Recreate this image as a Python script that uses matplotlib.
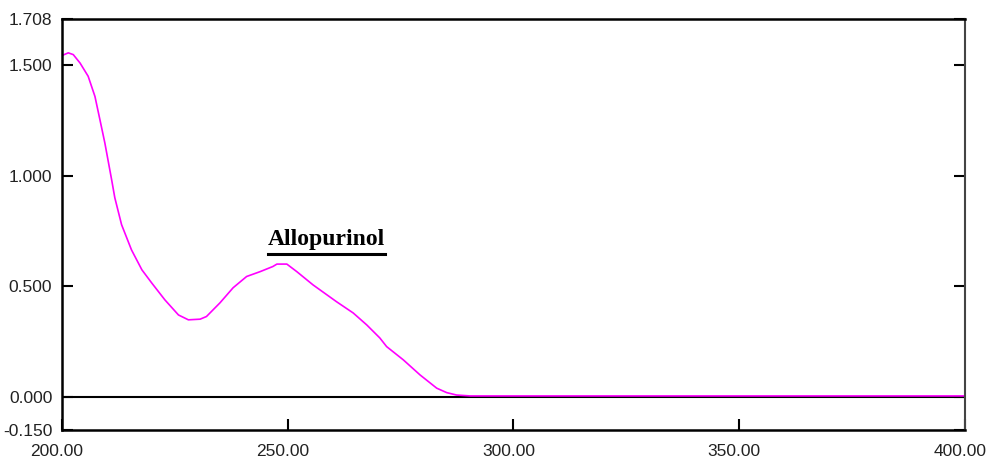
import numpy as np
import matplotlib.pyplot as plt
import matplotlib.transforms as mtransforms

# wavelength (nm) and absorbance
wavelength = [199.9, 201.4, 202.5, 204.0, 205.8, 207.3, 208.4, 209.5, 211.0, 211.7,
              213.2, 215.4, 217.7, 219.9, 222.8, 225.8, 228.0, 230.6, 232.0, 235.0,
              237.9, 240.9, 243.9, 246.7, 247.6, 249.8, 252.0, 255.6, 260.8, 264.5,
              267.5, 270.4, 271.9, 275.6, 279.3, 283.0, 285.2, 287.4, 290.4, 300.0,
              350.0, 400.0]
absorbance = [1.542, 1.555, 1.547, 1.509, 1.449, 1.358, 1.253, 1.147, 0.981, 0.900,
              0.778, 0.664, 0.574, 0.514, 0.438, 0.370, 0.348, 0.351, 0.363, 0.425,
              0.493, 0.544, 0.566, 0.589, 0.600, 0.600, 0.566, 0.506, 0.430, 0.379,
              0.325, 0.266, 0.227, 0.167, 0.099, 0.039, 0.019, 0.008, 0.004, 0.004,
              0.004, 0.004]

x_ticks = [200, 250, 300, 350, 400]
y_ticks = [-0.150, 0.000, 0.500, 1.000, 1.500, 1.708]
title = "Allopurinol"

fig = plt.figure(figsize=(9.87, 4.59), dpi=100)
ax = fig.add_axes([0.0628, 0.0632, 0.9149, 0.8954])

ax.axhline(0, color="black", lw=1.5, zorder=1)
ax.plot(wavelength, absorbance, color="#ff00ff", lw=1.2, zorder=2)

ax.set_xlim(200, 400)
ax.set_ylim(-0.150, 1.708)
ax.set_xticks(x_ticks)
ax.set_xticklabels(["%.2f" % v for v in x_ticks])
ax.set_yticks(y_ticks)
ax.set_yticklabels(["%.3f" % v for v in y_ticks])

ax.tick_params(direction="in", length=8, width=1.5, labelsize=12.5,
               right=True, top=False, pad=7, colors="black")
ax.tick_params(axis="x", pad=10)
shift = mtransforms.ScaledTranslation(-5 / 100, 0, fig.dpi_scale_trans)
for lab in ax.get_xticklabels():
    lab.set_transform(lab.get_transform() + shift)
for lab in ax.get_xticklabels() + ax.get_yticklabels():
    lab.set_family("Liberation Sans")
    lab.set_color("#222222")

for name, sp in ax.spines.items():
    sp.set_linewidth(1.8)
    sp.set_color("black")
ax.spines["right"].set_color("#444444")
ax.spines["right"].set_linewidth(1.5)

ax.text(258.5, 0.712, title, family="Liberation Serif", weight="bold",
        fontsize=17, ha="center", va="center")
ax.plot([245.6, 271.5], [0.644, 0.644], color="black", lw=2.2)

fig.savefig("out.png", dpi=100)
